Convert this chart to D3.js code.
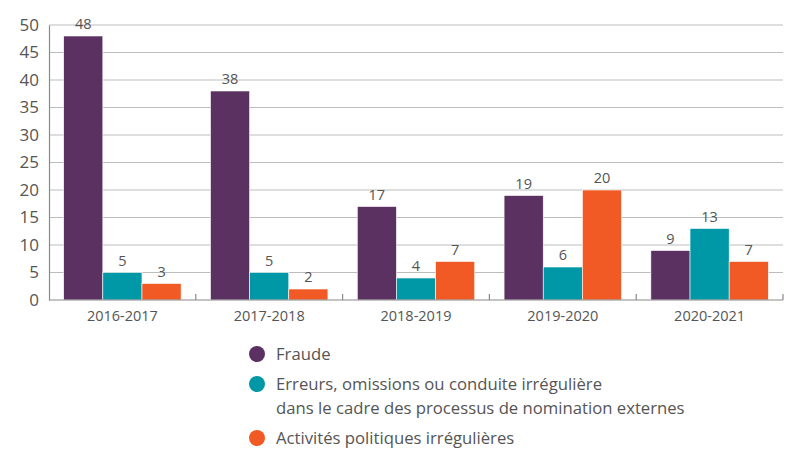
<!DOCTYPE html>
<html>
<head>
<meta charset="utf-8">
<script src="https://cdn.jsdelivr.net/npm/d3@7"></script>
<style>
  body { margin: 0; background: #fff; }
  text { font-family: "Open Sans", "Noto Sans", sans-serif; }
</style>
</head>
<body>
<div id="chart"></div>
<script>
const years = ["2016-2017", "2017-2018", "2018-2019", "2019-2020", "2020-2021"];
const seriesNames = [
  "Fraude",
  "Erreurs, omissions ou conduite irrégulière\ndans le cadre des processus de nomination externes",
  "Activités politiques irrégulières"
];
const fraude = [48, 38, 17, 19, 9];
const erreurs = [5, 5, 4, 6, 13];
const politiques = [3, 2, 7, 20, 7];
const yTicks = [0, 5, 10, 15, 20, 25, 30, 35, 40, 45, 50];
const colors = ["#5a3160", "#0098a6", "#f15a24"];

const width = 809, height = 465;
const margin = { top: 25, right: 26, bottom: 165, left: 49 };

const svg = d3.select("#chart").append("svg")
  .attr("width", width)
  .attr("height", height);

const x0 = d3.scaleBand()
  .domain(years)
  .range([margin.left, width - margin.right])
  .paddingInner(0.2)
  .paddingOuter(0.1);

const keys = [0, 1, 2];
const x1 = d3.scaleBand()
  .domain(keys)
  .range([0, x0.bandwidth()]);

const y = d3.scaleLinear()
  .domain([0, 50])
  .range([height - margin.bottom, margin.top]);

const step = x0.step();

// gridlines
svg.append("g")
  .selectAll("line")
  .data(yTicks.filter(d => d > 0))
  .join("line")
  .attr("x1", margin.left)
  .attr("x2", width - margin.right)
  .attr("y1", d => y(d))
  .attr("y2", d => y(d))
  .attr("stroke", "#bdbdbd")
  .attr("stroke-width", 1.2);

// y axis
const yAxis = svg.append("g")
  .attr("transform", `translate(${margin.left},0)`)
  .call(d3.axisLeft(y).tickValues(yTicks).tickSize(0).tickPadding(10));
yAxis.select(".domain").attr("stroke", "#8a8a8a").attr("stroke-width", 1.2);
yAxis.selectAll("text")
  .attr("fill", "#555")
  .style("font-size", "17px");

// bars
const data = years.map((yr, i) => ({ year: yr, values: [fraude[i], erreurs[i], politiques[i]] }));

const groups = svg.append("g")
  .selectAll("g")
  .data(data)
  .join("g")
  .attr("transform", d => `translate(${x0(d.year)},0)`);

groups.selectAll("rect")
  .data(d => d.values.map((v, k) => ({ k, v })))
  .join("rect")
  .attr("x", d => x1(d.k))
  .attr("y", d => y(d.v))
  .attr("width", x1.bandwidth())
  .attr("height", d => y(0) - y(d.v))
  .attr("fill", d => colors[d.k])
  .attr("stroke", "#fff")
  .attr("stroke-width", 0.6);

groups.selectAll("text.val")
  .data(d => d.values.map((v, k) => ({ k, v })))
  .join("text")
  .attr("class", "val")
  .attr("x", d => x1(d.k) + x1.bandwidth() / 2)
  .attr("y", d => y(d.v) - 7)
  .attr("text-anchor", "middle")
  .attr("fill", "#555")
  .style("font-size", "14.5px")
  .text(d => d.v);

// x axis
const xAxis = svg.append("g")
  .attr("transform", `translate(0,${y(0)})`);
xAxis.append("line")
  .attr("x1", margin.left)
  .attr("x2", width - margin.right)
  .attr("stroke", "#8a8a8a")
  .attr("stroke-width", 1.2);
const boundaries = years.map((d, i) => margin.left + step * i).concat([width - margin.right]);
xAxis.selectAll("line.tick")
  .data(boundaries.slice(1))
  .join("line")
  .attr("class", "tick")
  .attr("x1", d => d)
  .attr("x2", d => d)
  .attr("y1", 0)
  .attr("y2", -6)
  .attr("stroke", "#8a8a8a")
  .attr("stroke-width", 1.2);
xAxis.selectAll("text")
  .data(years)
  .join("text")
  .attr("x", d => x0(d) + x0.bandwidth() / 2)
  .attr("y", 21)
  .attr("text-anchor", "middle")
  .attr("fill", "#555")
  .style("font-size", "14.5px")
  .text(d => d);

// legend
const legendY = [354, 384, 438];
const legend = svg.append("g").attr("transform", "translate(257,0)");
seriesNames.forEach((name, i) => {
  const row = legend.append("g").attr("transform", `translate(0,${legendY[i]})`);
  row.append("circle")
    .attr("r", 8)
    .attr("fill", colors[i]);
  name.split("\n").forEach((line, j) => {
    row.append("text")
      .attr("x", 19)
      .attr("y", 6 + j * 24)
      .attr("fill", "#555")
      .style("font-size", "16.7px")
      .text(line);
  });
});
</script>
</body>
</html>
